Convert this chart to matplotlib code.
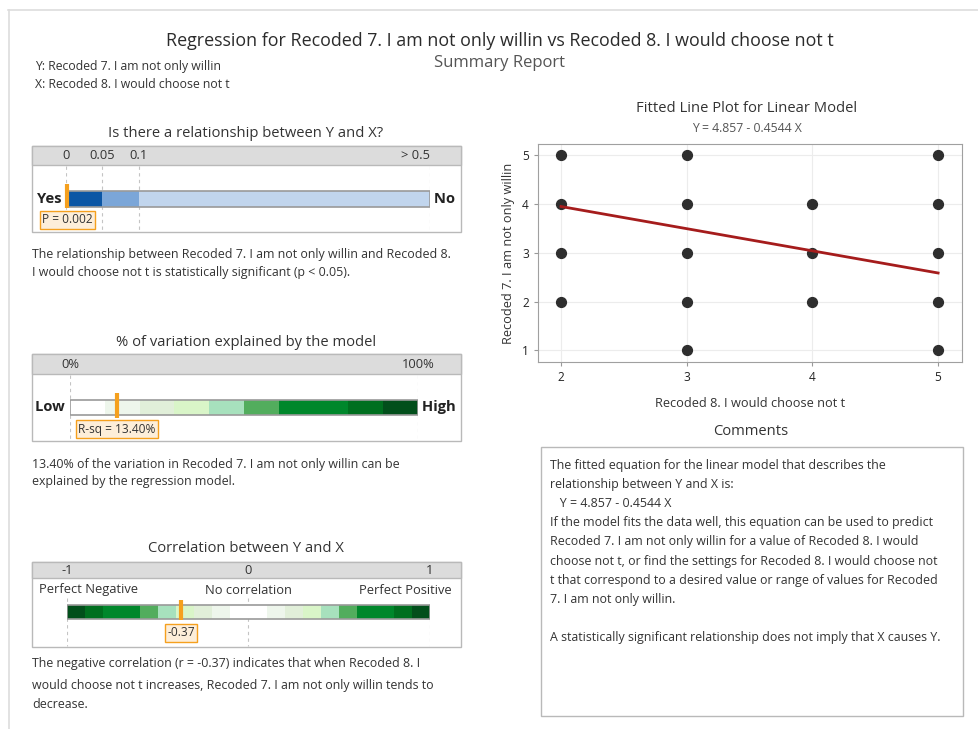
import matplotlib
matplotlib.use("Agg")
import matplotlib.pyplot as plt
import numpy as np
from matplotlib.patches import Rectangle

plt.rcParams["font.family"] = ["Open Sans", "DejaVu Sans"]

W, H = 979, 729

y_name = "Recoded 7. I am not only willin"
x_name = "Recoded 8. I would choose not t"

# observed (x, y) combinations
x_pts = [2, 2, 2, 2, 3, 3, 3, 3, 3, 4, 4, 4, 5, 5, 5, 5, 5]
y_pts = [5, 4, 3, 2, 5, 4, 3, 2, 1, 4, 3, 2, 5, 4, 3, 2, 1]
intercept = 4.857
slope = -0.4544

# p-value gauge
p_value = 0.002
p_edges = [0, 0.05, 0.1, 0.5]
p_labels = ["0", "0.05", "0.1", "> 0.5"]
p_colors = ["#0b56a5", "#7ba6d8", "#c1d5ed"]

# R-sq gauge
r_sq = 13.40
rsq_edges = [0, 10, 20, 30, 40, 50, 60, 80, 90, 100]
greens = ["#ffffff", "#eef6ec", "#e1efd9", "#d9f5c8", "#a7e1bd",
          "#52ad5d", "#00872b", "#006f1f", "#024f1b"]

# correlation gauge
r_value = -0.37
corr_edges = [-1, -0.9, -0.8, -0.6, -0.5, -0.4, -0.3, -0.2, -0.1,
              0.1, 0.2, 0.3, 0.4, 0.5, 0.6, 0.8, 0.9, 1]
corr_colors = greens[::-1] + greens[1:]

TXT = "#333333"
EDGE = "#b9b9b9"
ORANGE = "#f5a01e"
BODY = 8.9
HEAD = 10.6
TICK = 9.3

fig = plt.figure(figsize=(W / 100, H / 100), dpi=100)
bg = fig.add_axes([0, 0, 1, 1])
bg.set_xlim(0, W)
bg.set_ylim(H, 0)
bg.axis("off")


def px_axes(x0, y0, x1, y1):
    return fig.add_axes([x0 / W, 1 - y1 / H, (x1 - x0) / W, (y1 - y0) / H])


def frame(x0, y0, x1, y1, head):
    bg.add_patch(Rectangle((x0, y0), x1 - x0, y1 - y0, fc="white", ec=EDGE, lw=1))
    bg.add_patch(Rectangle((x0, y0), x1 - x0, head - y0, fc="#dcdcdc", ec=EDGE, lw=1))


def gauge(x0, x1, y0, y1, lo, hi, edges, colors, bar_top, bar_h, scale=None):
    ax = px_axes(x0, y0, x1, y1)
    if scale is not None:
        ax.set_xscale("function", functions=scale)
    ax.set_xlim(lo, hi)
    ax.set_ylim(y1, y0)
    ax.axis("off")
    e = np.array(edges, dtype=float)
    ax.barh(bar_top + bar_h / 2, e[1:] - e[:-1], left=e[:-1], height=bar_h,
            color=colors, edgecolor="none", zorder=2)
    ax.add_patch(Rectangle((lo, bar_top), hi - lo, bar_h, fill=False,
                           ec="#9a9a9a", lw=1.2, zorder=3))
    return ax


def marker(ax, val, ya, yb, label, ylab):
    ax.plot([val, val], [ya, yb], color=ORANGE, lw=3, solid_capstyle="butt",
            zorder=4, clip_on=False)
    ax.text(val, ylab, label, ha="center", va="center", fontsize=8.6, color=TXT,
            clip_on=False, zorder=5,
            bbox=dict(boxstyle="square,pad=0.2", fc="#fdeed9", ec=ORANGE, lw=1))


def dashed(ax, xs, ya, yb):
    ax.vlines(xs, ya, yb, colors="#c4c4c4", lw=0.8, linestyles=(0, (3, 3)), zorder=1)


# page frame
bg.plot([8, W], [10, 10], color="#dddddd", lw=1.2)
bg.plot([9, 9], [10, H], color="#dddddd", lw=1.2)

# headings
bg.text(500, 41, f"Regression for {y_name} vs {x_name}", ha="center", va="center",
        fontsize=12.9, color="#2b2b2b")
bg.text(500, 63, "Summary Report", ha="center", va="center", fontsize=12, color="#555555")
bg.text(35, 66, f"Y: {y_name}", ha="left", va="center", fontsize=8.8, color=TXT)
bg.text(35, 84, f"X: {x_name}", ha="left", va="center", fontsize=8.8, color=TXT)

# --- p-value panel
bg.text(246, 133, "Is there a relationship between Y and X?", ha="center", va="center",
        fontsize=HEAD, color=TXT)
frame(32, 146, 461, 232, 165)
p_pos = [0, 36, 73, 364]
p_scale = (lambda v: np.interp(v, p_edges, p_pos), lambda u: np.interp(u, p_pos, p_edges))
ax1 = gauge(66, 430, 146, 232, 0, 0.5, p_edges, p_colors, 191, 16, scale=p_scale)
dashed(ax1, p_edges, 166, 231)
for v, s in zip(p_edges, p_labels):
    ax1.text(v, 156, s, ha="center" if v < 0.5 else "right", va="center",
             fontsize=TICK, color=TXT, clip_on=False)
ax1.text(-0.0005, 199, "Yes ", ha="right", va="center", fontsize=10.6, fontweight="bold",
         color="#222222", clip_on=False)
ax1.text(0.5, 199, " No", ha="left", va="center", fontsize=10.6, fontweight="bold",
         color="#222222", clip_on=False)
marker(ax1, p_value, 184, 208, f"P = {p_value:.3f}", 220)
bg.text(32, 254, f"The relationship between {y_name} and Recoded 8.", fontsize=BODY,
        color=TXT, va="center")
bg.text(32, 272, "I would choose not t is statistically significant (p < 0.05).",
        fontsize=BODY, color=TXT, va="center")

# --- R-sq panel
bg.text(246, 342, "% of variation explained by the model", ha="center", va="center",
        fontsize=HEAD, color=TXT)
frame(32, 354, 461, 441, 374)
ax2 = gauge(70, 418, 354, 441, 0, 100, rsq_edges, greens, 400, 15)
dashed(ax2, [0, 100], 375, 440)
ax2.text(0, 364, "0%", ha="center", va="center", fontsize=TICK, color=TXT, clip_on=False)
ax2.text(100, 364, "100%", ha="center", va="center", fontsize=TICK, color=TXT, clip_on=False)
ax2.text(-0.5, 407, "Low ", ha="right", va="center", fontsize=10.6, fontweight="bold",
         color="#222222", clip_on=False)
ax2.text(100, 407, " High", ha="left", va="center", fontsize=10.6, fontweight="bold",
         color="#222222", clip_on=False)
marker(ax2, r_sq, 393, 418, f"R-sq = {r_sq:.2f}%", 429)
bg.text(32, 464, f"{r_sq:.2f}% of the variation in {y_name} can be", fontsize=BODY,
        color=TXT, va="center")
bg.text(32, 481, "explained by the regression model.", fontsize=BODY, color=TXT, va="center")

# --- correlation panel
bg.text(246, 549, "Correlation between Y and X", ha="center", va="center",
        fontsize=HEAD, color=TXT)
frame(32, 562, 461, 647, 578)
ax3 = gauge(67, 430, 562, 647, -1, 1, corr_edges, corr_colors, 605, 14)
dashed(ax3, [-1, 0, 1], 598, 646)
for v in [-1, 0, 1]:
    ax3.text(v, 570, f"{v}", ha="center", va="center", fontsize=TICK, color=TXT, clip_on=False)
ax3.text(-1.154, 590, "Perfect Negative", ha="left", va="center", fontsize=TICK,
         color=TXT, clip_on=False)
ax3.text(0, 590, "No correlation", ha="center", va="center", fontsize=TICK, color=TXT,
         clip_on=False)
ax3.text(1.121, 590, "Perfect Positive", ha="right", va="center", fontsize=TICK,
         color=TXT, clip_on=False)
marker(ax3, r_value, 600, 620, f"{r_value:.2f}", 633)
bg.text(32, 664, f"The negative correlation (r = {r_value:.2f}) indicates that when Recoded 8. I",
        fontsize=BODY, color=TXT, va="center")
bg.text(32, 685, f"would choose not t increases, {y_name} tends to", fontsize=BODY,
        color=TXT, va="center")
bg.text(32, 704, "decrease.", fontsize=BODY, color=TXT, va="center")

# --- fitted line plot
bg.text(747, 108, "Fitted Line Plot for Linear Model", ha="center", va="center",
        fontsize=HEAD, color=TXT)
eq = f"Y = {intercept:.3f} - {abs(slope):.4f} X"
bg.text(747, 128, eq, ha="center", va="center", fontsize=8.8, color="#555555")
sc = px_axes(538, 144, 962, 362)
sc.set_xlim(1.817, 5.19)
sc.set_ylim(0.76, 5.23)
sc.grid(color="#ececec", lw=0.8)
sc.set_axisbelow(True)
sc.scatter(x_pts, y_pts, s=50, color="#2e2e2e", zorder=3)
xf = np.array([2, 5])
sc.plot(xf, intercept + slope * xf, color="#a51c1c", lw=2, zorder=4)
sc.set_xticks([2, 3, 4, 5])
sc.set_yticks([1, 2, 3, 4, 5])
sc.tick_params(labelsize=8.6, length=3, color="#999999", labelcolor="#222222")
for s in sc.spines.values():
    s.set_color("#a0a0a0")
sc.set_xlabel(x_name, fontsize=9.2, color=TXT, labelpad=9)
sc.set_ylabel(y_name, fontsize=9.2, color=TXT, labelpad=5)

# --- comments
bg.text(751, 431, "Comments", ha="center", va="center", fontsize=HEAD, color=TXT)
bg.add_patch(Rectangle((541, 447), 422, 269, fc="white", ec=EDGE, lw=1))
comment_lines = [
    "The fitted equation for the linear model that describes the",
    "relationship between Y and X is:",
    f"   {eq}",
    "If the model fits the data well, this equation can be used to predict",
    f"{y_name} for a value of Recoded 8. I would",
    "choose not t, or find the settings for Recoded 8. I would choose not",
    "t that correspond to a desired value or range of values for Recoded",
    "7. I am not only willin.",
    "",
    "A statistically significant relationship does not imply that X causes Y.",
]
for i, line in enumerate(comment_lines):
    bg.text(550, 465 + 19.2 * i, line, fontsize=BODY, color=TXT, va="center")

fig.savefig("out.png", dpi=100)
